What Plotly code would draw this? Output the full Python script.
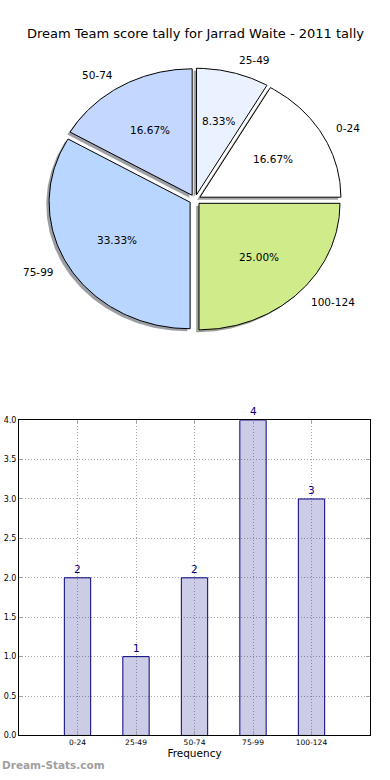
import numpy as np
import plotly.graph_objects as go

# ---------------- data ----------------
categories = ["0-24", "25-49", "50-74", "75-99", "100-124"]
counts = [2, 1, 2, 4, 3]
slice_colors = ["#ffffff", "#eaf1ff", "#c4d8ff", "#b8d6ff", "#d0ec8a"]
title_text = "Dream Team score tally for Jarrad Waite - 2011 tally"
x_title = "Frequency"
watermark = "Dream-Stats.com"
y_ticks = [0, 0.5, 1.0, 1.5, 2.0, 2.5, 3.0, 3.5, 4.0]

W, H = 390, 780
FONT = "DejaVu Sans"

fig = go.Figure()

# ---------------- pie (drawn as wedges on an unequal-aspect axis, like matplotlib) ----------------
explode = 0.04
shadow_off = (-0.02, -0.02)
total = sum(counts)
fracs = [c / total for c in counts]
angles = np.concatenate([[0.0], np.cumsum(fracs) * 360.0])


def hex_to_rgb(h):
    h = h.lstrip("#")
    return tuple(int(h[i:i + 2], 16) for i in (0, 2, 4))


wedges = []
for i, f in enumerate(fracs):
    a0, a1 = angles[i], angles[i + 1]
    mid = np.deg2rad((a0 + a1) / 2)
    cx, cy = explode * np.cos(mid), explode * np.sin(mid)
    th = np.deg2rad(np.linspace(a0, a1, 120))
    xs = np.concatenate([[cx], cx + np.cos(th), [cx]])
    ys = np.concatenate([[cy], cy + np.sin(th), [cy]])
    wedges.append((xs, ys, cx, cy, mid))

# shadows
for i, (xs, ys, cx, cy, mid) in enumerate(wedges):
    r, g, b = hex_to_rgb(slice_colors[i])
    sc = "rgba(%d,%d,%d,0.5)" % (int(r * 0.3), int(g * 0.3), int(b * 0.3))
    fig.add_trace(go.Scatter(x=xs + shadow_off[0], y=ys + shadow_off[1], mode="lines",
                             fill="toself", fillcolor=sc, line=dict(width=0),
                             xaxis="x2", yaxis="y2", hoverinfo="skip", showlegend=False))
# wedges
for i, (xs, ys, cx, cy, mid) in enumerate(wedges):
    fig.add_trace(go.Scatter(x=xs, y=ys, mode="lines", fill="toself",
                             fillcolor=slice_colors[i], line=dict(color="black", width=1),
                             xaxis="x2", yaxis="y2", name=categories[i],
                             hoverinfo="name", showlegend=False))

annotations = []
for i, (xs, ys, cx, cy, mid) in enumerate(wedges):
    # percentage label
    annotations.append(dict(x=cx + 0.6 * np.cos(mid), y=cy + 0.6 * np.sin(mid),
                            xref="x2", yref="y2", text="%.2f%%" % (fracs[i] * 100),
                            showarrow=False, xanchor="center", yanchor="middle",
                            font=dict(family=FONT, size=10.5, color="black")))
    lx = cx + 1.1 * np.cos(mid)
    ly = cy + 1.1 * np.sin(mid)
    annotations.append(dict(x=lx, y=ly, xref="x2", yref="y2", text=categories[i],
                            showarrow=False, xanchor="left" if lx > 0 else "right",
                            yanchor="middle",
                            font=dict(family=FONT, size=10.5, color="black")))

# ---------------- bar chart ----------------
xpos = list(range(1, len(categories) + 1))
fig.add_trace(go.Bar(x=xpos, y=counts, width=0.45,
                     marker=dict(color="rgba(0,0,128,0.2)",
                                 line=dict(color="#000080", width=1)),
                     xaxis="x", yaxis="y", showlegend=False, hoverinfo="y"))
for xp, c in zip(xpos, counts):
    annotations.append(dict(x=xp, y=c, xref="x", yref="y", text=str(c), showarrow=False,
                            xanchor="center", yanchor="bottom", yshift=1,
                            font=dict(family=FONT, size=10.5, color="#000080")))

# title
annotations.append(dict(x=195 / W, y=1 - 30 / H, xref="paper", yref="paper", text=title_text,
                        showarrow=False, xanchor="center", yanchor="middle",
                        font=dict(family=FONT, size=13, color="black")))
# watermark
annotations.append(dict(x=0, y=1 - 770 / H, xref="paper", yref="paper", text="<b>" + watermark + "</b>",
                        showarrow=False, xanchor="left", yanchor="middle",
                        font=dict(family=FONT, size=10.5, color="#a0a0a0")))

# pie axis scaling: radius 1 -> 141 px horizontally, 128 px vertically
rx, ry = 141.0, 128.0
pcx, pcy = 195.0, 198.0
ptop, pbot = 40.0, 360.0

grid_dash = "1px,2px"
fig.update_layout(
    width=W, height=H,
    margin=dict(l=0, r=0, t=0, b=0),
    paper_bgcolor="white", plot_bgcolor="white",
    showlegend=False,
    annotations=annotations,
    xaxis2=dict(domain=[0, 1], range=[-pcx / rx, (W - pcx) / rx], visible=False,
                fixedrange=True, anchor="y2"),
    yaxis2=dict(domain=[1 - pbot / H, 1 - ptop / H],
                range=[-(pbot - pcy) / ry, (pcy - ptop) / ry], visible=False,
                fixedrange=True, anchor="x2"),
    xaxis=dict(domain=[19 / W, 370 / W], range=[0, 6], tickvals=xpos, ticktext=categories,
               showgrid=True, gridcolor="#a8a8a8", griddash=grid_dash, gridwidth=1,
               showline=True, linecolor="black", linewidth=1, mirror="ticks",
               ticks="inside", ticklen=4, tickcolor="#a0a0a0",
               tickfont=dict(family=FONT, size=7.5, color="black"),
               title=dict(text=x_title, font=dict(family=FONT, size=10.5, color="black"),
                          standoff=2),
               zeroline=False, fixedrange=True, anchor="y"),
    yaxis=dict(domain=[1 - 740 / H, 1 - 421 / H], range=[0, 4], tickvals=y_ticks,
               tickformat=".1f",
               showgrid=True, gridcolor="#a8a8a8", griddash=grid_dash, gridwidth=1,
               showline=True, linecolor="black", linewidth=1, mirror="ticks",
               ticks="inside", ticklen=4, tickcolor="#a0a0a0",
               tickfont=dict(family=FONT, size=8, color="black"),
               zeroline=False, fixedrange=True, anchor="x"),
)

fig.write_html("out.html", config={"displayModeBar": False},
               post_script="document.body.style.margin='0';document.body.style.padding='0';"
                           "document.body.style.overflow='hidden';")
